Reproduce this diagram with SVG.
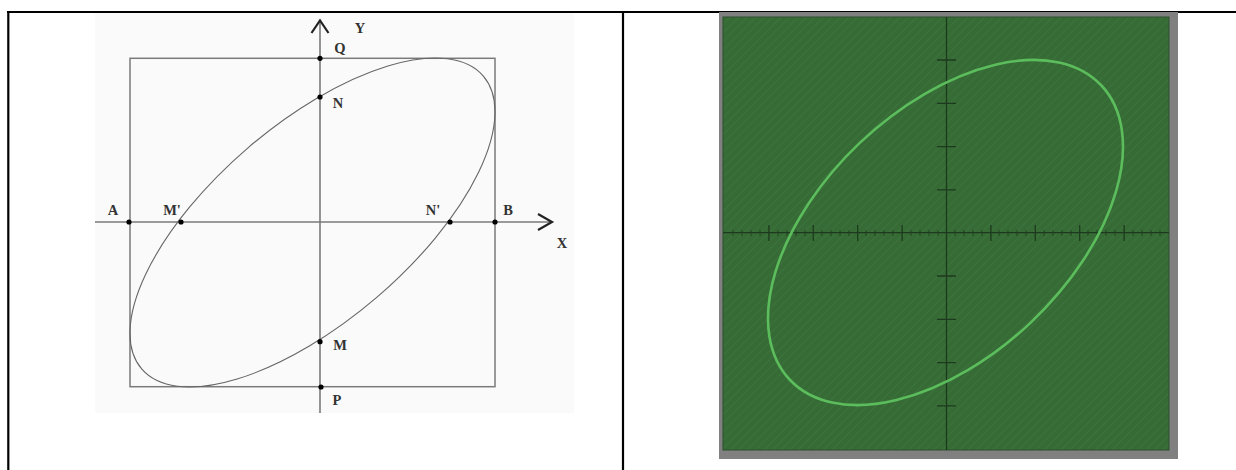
<svg xmlns="http://www.w3.org/2000/svg" width="1236" height="470" viewBox="0 0 1236 470">
<style>
.tbl{stroke:#000;stroke-width:2.2;fill:none}
.ax{stroke:#7a7a7a;stroke-width:1.6;fill:none}
.arr{stroke:#222;stroke-width:2.2;fill:none;stroke-linejoin:miter}
.lbl{font-family:"Liberation Serif","Times New Roman",serif;font-weight:bold;font-size:14.5px;fill:#333;text-anchor:middle}
.dot{fill:#000}
.tk{stroke:#1e3a1e;stroke-width:1.3}
.mtk{stroke:#1e3a1e;stroke-width:0.8}
</style>
<defs>
<pattern id="hatch" width="6" height="6" patternUnits="userSpaceOnUse" patternTransform="rotate(45)">
<rect width="6" height="6" fill="#366b36"/>
<line x1="0" y1="0" x2="0" y2="6" stroke="#3d753d" stroke-width="1.5"/>
</pattern>
</defs>
<rect width="1236" height="470" fill="#fff"/>
<g id="table">
<line class="tbl" x1="7" y1="12" x2="1236" y2="12"/>
<line class="tbl" x1="8.3" y1="11" x2="8.3" y2="470"/>
<line class="tbl" x1="623" y1="12" x2="623" y2="470"/>
</g>
<g id="left-figure">
<rect x="95" y="13" width="479" height="400" fill="#fafafa"/>
<rect x="130" y="58.3" width="365" height="328.4" fill="none" stroke="#7a7a7a" stroke-width="1.5"/>
<g id="axes-left">
<line class="ax" x1="320" y1="22" x2="320" y2="413"/>
<line class="ax" x1="95" y1="222" x2="551" y2="222"/>
<polyline class="arr" points="311.5,33 320,20.5 328.5,33"/>
<polyline class="arr" points="538,214 552,222 538,230"/>
</g>
<ellipse cx="312.5" cy="222.5" rx="225" ry="98.7" transform="rotate(-40.6 312.5 222.5)" fill="none" stroke="#666" stroke-width="1.1"/>
<g id="points">
<circle class="dot" cx="320" cy="58.3" r="2.6"/>
<circle class="dot" cx="320" cy="97" r="2.6"/>
<circle class="dot" cx="129" cy="222" r="2.6"/>
<circle class="dot" cx="181" cy="222" r="2.6"/>
<circle class="dot" cx="450" cy="222" r="2.6"/>
<circle class="dot" cx="495" cy="222" r="2.6"/>
<circle class="dot" cx="320" cy="341.7" r="2.6"/>
<circle class="dot" cx="321" cy="387" r="2.6"/>
</g>
<g id="labels">
<text class="lbl" x="360" y="33">Y</text>
<text class="lbl" x="340" y="53">Q</text>
<text class="lbl" x="338" y="108">N</text>
<text class="lbl" x="113" y="215">A</text>
<text class="lbl" x="172" y="215">M'</text>
<text class="lbl" x="433" y="215">N'</text>
<text class="lbl" x="508" y="215">B</text>
<text class="lbl" x="562" y="248">X</text>
<text class="lbl" x="340" y="350">M</text>
<text class="lbl" x="337" y="405">P</text>
</g>
</g>
<g id="right-figure">
<rect x="719" y="12" width="459" height="447" fill="#808080"/>
<rect x="723" y="17" width="446" height="433" fill="url(#hatch)" stroke="#2c4f2c" stroke-width="1"/>
<g id="axes-right">
<line class="tk" x1="946.5" y1="17" x2="946.5" y2="450"/>
<line class="tk" x1="723" y1="232.7" x2="1169" y2="232.7"/>
<path class="tk" d="M937 60H956M937 103.3H956M937 146.6H956M937 189.9H956M937 276H956M937 319.3H956M937 362.6H956M937 405.9H956"/>
<path class="tk" d="M768.9 225V241M813.3 225V241M857.7 225V241M902.1 225V241M990.9 225V241M1035.3 225V241M1079.7 225V241M1124.1 225V241"/>
<path class="mtk" d="M733 230V236M742 230V236M751 230V236M760 230V236M778 230V236M787 230V236M796 230V236M805 230V236M822 230V236M831 230V236M840 230V236M849 230V236M866 230V236M875 230V236M884 230V236M893 230V236M911 230V236M920 230V236M929 230V236M938 230V236M955 230V236M964 230V236M973 230V236M982 230V236M999 230V236M1008 230V236M1017 230V236M1026 230V236M1044 230V236M1053 230V236M1062 230V236M1071 230V236M1088 230V236M1097 230V236M1106 230V236M1115 230V236M1133 230V236M1142 230V236M1151 230V236M1160 230V236"/>
</g>
<ellipse cx="945.5" cy="232.5" rx="214.3" ry="124" transform="rotate(-43.4 945.5 232.5)" fill="none" stroke="#5cbd5c" stroke-width="2.6"/>
</g>
</svg>
